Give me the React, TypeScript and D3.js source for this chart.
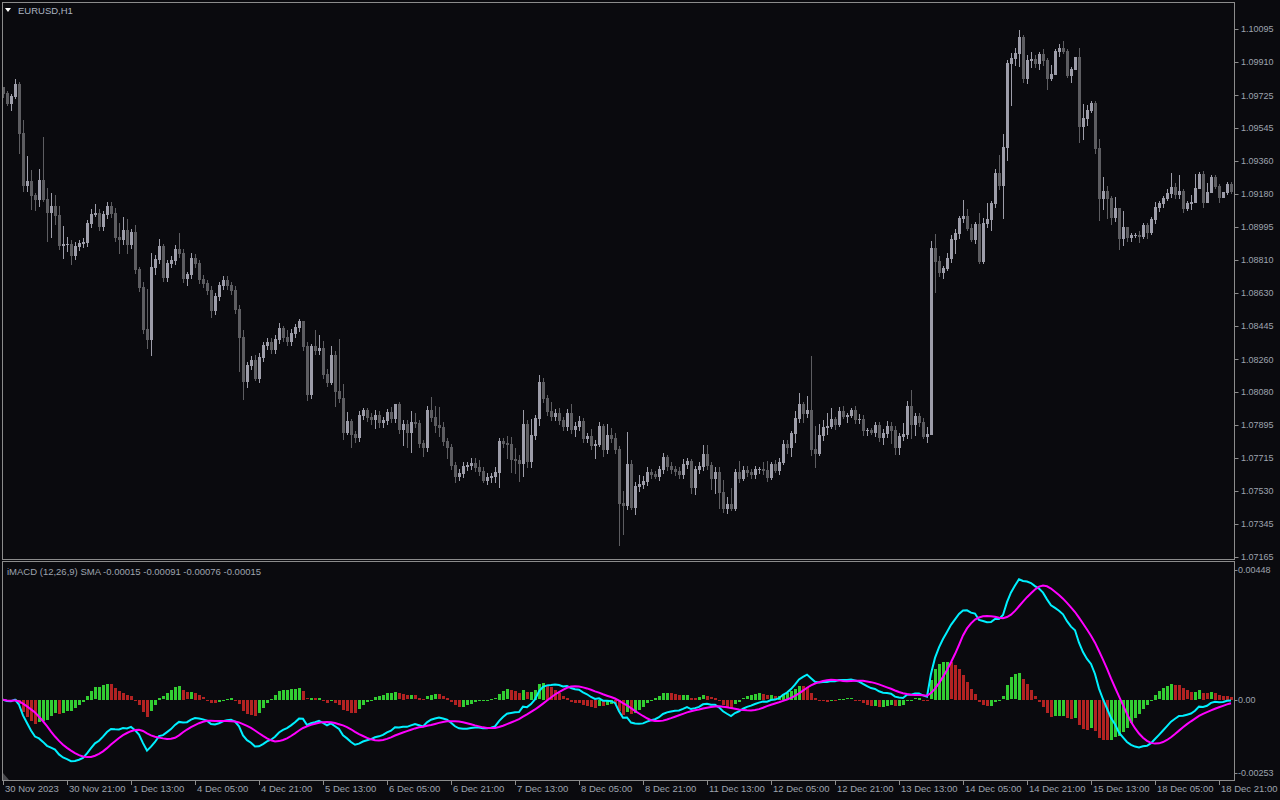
import { line, scaleLinear } from "d3";

// EURUSD H1, 30 Nov - 18 Dec 2023
const firstOpen = 1.09771;

const closes = [
  1.09738, 1.09682, 1.09721, 1.09788, 1.09516, 1.09227, 1.09249, 1.09172, 1.0915, 1.09255,
  1.0915, 1.09077, 1.09111, 1.09061, 1.08894, 1.089, 1.089, 1.08839, 1.08889, 1.08905,
  1.08911, 1.09016, 1.09066, 1.09072, 1.09, 1.09066, 1.09111, 1.09072, 1.08939, 1.08928,
  1.08978, 1.089, 1.08966, 1.08761, 1.08661, 1.08428, 1.08373, 1.08772, 1.08817, 1.08889,
  1.08717, 1.08794, 1.08811, 1.08872, 1.0885, 1.08711, 1.08733, 1.08822, 1.08794, 1.08706,
  1.08683, 1.08645, 1.08534, 1.08611, 1.08672, 1.087, 1.08672, 1.08645, 1.08539, 1.08384,
  1.08139, 1.08228, 1.08256, 1.08156, 1.08273, 1.08339, 1.08356, 1.08317, 1.08373, 1.08434,
  1.08384, 1.08361, 1.08406, 1.08439, 1.08472, 1.08334, 1.08067, 1.08334, 1.08312, 1.08323,
  1.08178, 1.08134, 1.08284, 1.08084, 1.08045, 1.07856, 1.07917, 1.07845, 1.07829, 1.07951,
  1.07979, 1.0794, 1.07929, 1.07951, 1.07912, 1.07923, 1.07967, 1.07934, 1.08012, 1.07873,
  1.07901, 1.07856, 1.07912, 1.07906, 1.07795, 1.07773, 1.07979, 1.0794, 1.07895, 1.07884,
  1.07806, 1.07773, 1.07673, 1.07612, 1.07629, 1.07668, 1.07673, 1.07684, 1.07662, 1.0764,
  1.0759, 1.07607, 1.07612, 1.07634, 1.07806, 1.07795, 1.0779, 1.07707, 1.07701, 1.07684,
  1.07901, 1.07695, 1.0784, 1.07934, 1.08134, 1.08045, 1.07973, 1.07945, 1.07962, 1.07923,
  1.0789, 1.07962, 1.07873, 1.0789, 1.07917, 1.07823, 1.07834, 1.07784, 1.0779, 1.0789,
  1.07762, 1.0784, 1.07823, 1.07762, 1.07462, 1.07451, 1.07679, 1.0744, 1.07557, 1.07568,
  1.07584, 1.07634, 1.07623, 1.07612, 1.07651, 1.07718, 1.07668, 1.07651, 1.0764, 1.07623,
  1.07679, 1.07695, 1.07551, 1.07651, 1.07668, 1.07734, 1.07673, 1.07601, 1.07634, 1.07523,
  1.07435, 1.07457, 1.07435, 1.07634, 1.07601, 1.07646, 1.07634, 1.07623, 1.07651, 1.07651,
  1.07646, 1.07607, 1.07679, 1.07646, 1.0769, 1.0779, 1.07773, 1.07851, 1.07934, 1.08012,
  1.07962, 1.07979, 1.07762, 1.0774, 1.0784, 1.07884, 1.0789, 1.07929, 1.07901, 1.07973,
  1.07945, 1.07951, 1.07979, 1.07929, 1.07929, 1.07868, 1.07868, 1.07856, 1.07895, 1.07829,
  1.07851, 1.0789, 1.07868, 1.07773, 1.07834, 1.07845, 1.08001, 1.07901, 1.07945, 1.07912,
  1.07834, 1.07845, 1.08878, 1.08805, 1.08744, 1.08767, 1.08822, 1.08928, 1.08961, 1.09044,
  1.09055, 1.08989, 1.08928, 1.09011, 1.08805, 1.09016, 1.09039, 1.09127, 1.09294, 1.09227,
  1.09438, 1.09904, 1.09932, 1.0996, 1.10049, 1.09821, 1.09921, 1.09927, 1.09904, 1.09954,
  1.09921, 1.09821, 1.09843, 1.09971, 1.09988, 1.09971, 1.09838, 1.09871, 1.09938, 1.09555,
  1.09599, 1.09644, 1.09682, 1.09433, 1.09155, 1.09194, 1.09155, 1.0905, 1.091, 1.08933,
  1.08994, 1.08939, 1.0895, 1.0895, 1.08944, 1.09005, 1.08966, 1.09039, 1.09105, 1.09127,
  1.09155, 1.09183, 1.09216, 1.09177, 1.09194, 1.091, 1.09127, 1.09133, 1.09211, 1.09288,
  1.09133, 1.09188, 1.09272, 1.09222, 1.09161, 1.09188, 1.09233, 1.09194,
];

// wick lengths beyond the body, in pips
const upperWicks = [
  0, 1, 1, 3, 1, 7, 14, 6, 1, 6,
  24, 6, 7, 6, 5, 10, 4, 2, 2, 2,
  2, 2, 3, 5, 2, 2, 2, 2, 3, 8,
  7, 6, 2, 4, 1, 3, 22, 8, 2, 4,
  1, 2, 2, 2, 9, 2, 1, 3, 2, 2,
  2, 2, 2, 2, 2, 2, 2, 2, 2, 2,
  4, 2, 2, 3, 2, 2, 2, 2, 2, 3,
  1, 4, 2, 2, 1, 0, 2, 1, 9, 7,
  4, 3, 5, 2, 29, 8, 5, 1, 2, 2,
  1, 1, 2, 3, 2, 2, 2, 3, 0, 1,
  2, 2, 6, 5, 2, 2, 2, 7, 6, 10,
  3, 2, 2, 2, 2, 2, 2, 3, 3, 4,
  2, 2, 2, 3, 2, 2, 4, 4, 6, 3,
  8, 2, 9, 2, 4, 2, 2, 5, 2, 3,
  2, 2, 5, 2, 3, 2, 2, 4, 2, 2,
  1, 6, 4, 3, 2, 7, 18, 2, 2, 5,
  3, 3, 2, 2, 2, 2, 1, 2, 2, 2,
  3, 2, 1, 2, 2, 5, 5, 2, 3, 3,
  7, 4, 9, 2, 6, 2, 2, 2, 2, 1,
  4, 5, 1, 2, 2, 2, 2, 1, 4, 6,
  1, 8, 30, 13, 6, 4, 7, 6, 1, 2,
  3, 1, 1, 2, 3, 2, 1, 1, 2, 2,
  2, 3, 2, 2, 2, 6, 3, 9, 2, 2,
  2, 4, 4, 8, 3, 1, 3, 2, 2, 1,
  9, 4, 2, 1, 6, 3, 9, 1, 2, 10,
  7, 2, 3, 3, 4, 1, 3, 4, 2, 1,
  3, 1, 5, 1, 2, 4, 1, 1, 0, 5,
  8, 3, 1, 1, 5, 8, 3, 1, 6, 0,
  9, 0, 1, 1, 2, 1, 1, 1, 3, 1,
  1, 2, 8, 2, 9, 1, 1, 4, 8, 1,
  2, 5, 1, 1, 1, 0, 1, 1,
];

const lowerWicks = [
  2, 1, 4, 1, 11, 3, 3, 8, 6, 4,
  1, 16, 14, 5, 2, 7, 4, 5, 2, 2,
  2, 2, 2, 1, 2, 2, 2, 2, 2, 8,
  3, 5, 2, 2, 2, 2, 5, 9, 4, 2,
  2, 2, 2, 2, 2, 2, 4, 2, 2, 2,
  2, 2, 4, 2, 2, 2, 2, 2, 2, 19,
  10, 3, 2, 1, 2, 2, 2, 2, 2, 2,
  2, 2, 2, 2, 2, 2, 3, 2, 2, 2,
  2, 2, 1, 8, 2, 4, 1, 7, 3, 2,
  2, 2, 3, 5, 3, 3, 2, 2, 2, 2,
  9, 8, 11, 2, 2, 5, 2, 2, 4, 5,
  2, 6, 2, 3, 2, 2, 2, 2, 2, 2,
  1, 2, 3, 3, 8, 2, 8, 7, 7, 10,
  7, 3, 3, 2, 4, 2, 2, 2, 2, 2,
  2, 2, 2, 4, 2, 2, 2, 2, 7, 1,
  4, 2, 2, 2, 23, 16, 2, 1, 4, 3,
  2, 2, 2, 1, 2, 2, 2, 2, 2, 2,
  2, 2, 3, 4, 2, 2, 2, 6, 8, 9,
  2, 3, 1, 1, 2, 1, 2, 2, 2, 2,
  2, 2, 1, 1, 2, 1, 3, 5, 5, 2,
  5, 2, 3, 8, 1, 3, 4, 1, 3, 1,
  1, 3, 1, 2, 2, 3, 3, 1, 2, 2,
  4, 2, 7, 4, 4, 2, 2, 8, 6, 2,
  1, 3, 0, 17, 2, 3, 1, 2, 8, 3,
  2, 1, 1, 2, 1, 1, 2, 6, 2, 2,
  18, 7, 23, 4, 7, 2, 3, 4, 2, 3,
  3, 6, 1, 0, 3, 1, 1, 4, 0, 9,
  7, 4, 1, 3, 12, 6, 11, 4, 2, 6,
  4, 2, 2, 1, 3, 1, 3, 1, 2, 2,
  2, 1, 2, 2, 2, 2, 1, 3, 0, 0,
  3, 0, 0, 1, 3, 0, 1, 1,
];

const priceTicks = [
  "1.10095", "1.09910", "1.09725", "1.09545", "1.09360", "1.09180", "1.08995", "1.08810", "1.08630",
  "1.08445", "1.08260", "1.08080", "1.07895", "1.07715", "1.07530", "1.07345", "1.07165",
];
const macdTicks = ["0.00448", "0.00", "-0.00253"];

const timeLabels = [
  "30 Nov 2023", "30 Nov 21:00", "1 Dec 13:00", "4 Dec 05:00", "4 Dec 21:00", "5 Dec 13:00",
  "6 Dec 05:00", "6 Dec 21:00", "7 Dec 13:00", "8 Dec 05:00", "8 Dec 21:00", "11 Dec 13:00",
  "12 Dec 05:00", "12 Dec 21:00", "13 Dec 13:00", "14 Dec 05:00", "14 Dec 21:00", "15 Dec 13:00",
  "18 Dec 05:00", "18 Dec 21:00",
];
const timeLabelBars = [0, 16, 32, 48, 64, 80, 96, 112, 128, 144, 160, 176, 192, 208, 224, 240, 256, 272, 288, 304];

const symbolTitle = "EURUSD,H1";
const macdTitle = "iMACD (12,26,9) SMA -0.00015 -0.00091 -0.00076 -0.00015";

const PIP = 0.0001;
const BG = "#0a0a0e";
const FRAME = "#8c8c8c";
const TEXT = "#9ea4ae";
const BULL = "#9d9da9";
const BEAR = "#5d5d61";
const FONT = "'Liberation Sans', Arial, sans-serif";

const main = { left: 2.5, right: 1234.5, top: 2.5, bottom: 559.5 };
const sub = { top: 561.5, bottom: 780.5 };

function ema(values: number[], period: number) {
  const k = 2 / (period + 1);
  const out: number[] = [];
  values.forEach((v, i) => out.push(i === 0 ? v : v * k + out[i - 1] * (1 - k)));
  return out;
}

export default function App() {
  const n = closes.length;
  const opens = closes.map((_, i) => (i === 0 ? firstOpen : closes[i - 1]));
  const highs = closes.map((c, i) => Math.max(opens[i], c) + upperWicks[i] * PIP);
  const lows = closes.map((c, i) => Math.min(opens[i], c) - lowerWicks[i] * PIP);

  // MACD(12,26,9) with SMA signal, as MetaTrader's iMACD
  const fast = ema(closes, 12);
  const slow = ema(closes, 26);
  const macd = fast.map((f, i) => f - slow[i]);
  const signal = macd.map((_, i) => {
    const w = macd.slice(Math.max(0, i - 8), i + 1);
    return w.reduce((a, b) => a + b, 0) / w.length;
  });
  const hist = macd.map((m, i) => m - signal[i]);

  const x = scaleLinear().domain([0, n - 1]).range([3, 3 + 4 * (n - 1)]);
  const y = scaleLinear().domain([1.07165, 1.10095]).range([556.7, 28.7]);
  const yM = scaleLinear().domain([-0.00253, 0.00448]).range([773, 570]);

  const macdLine = line<number>().x((_, i) => x(i)).y((d) => yM(d));

  return (
    <svg
      width={1280}
      height={800}
      style={{ position: "absolute", left: 0, top: 0, background: BG }}
      fontFamily={FONT}
    >
      <rect width={1280} height={800} fill={BG} />
      <defs>
        <clipPath id="mainClip">
          <rect x={main.left} y={main.top} width={main.right - main.left} height={main.bottom - main.top} />
        </clipPath>
        <clipPath id="subClip">
          <rect x={main.left} y={sub.top} width={main.right - main.left} height={sub.bottom - sub.top} />
        </clipPath>
      </defs>

      {/* candles */}
      <g clipPath="url(#mainClip)" shapeRendering="crispEdges">
        {closes.map((c, i) => {
          const o = opens[i];
          const cx = Math.round(x(i));
          const col = c >= o ? BULL : BEAR;
          const top = Math.round(y(Math.max(o, c)));
          const bot = Math.round(y(Math.min(o, c)));
          const hi = Math.round(y(highs[i]));
          const lo = Math.round(y(lows[i]));
          return (
            <g key={`c-${i}`}>
              <rect x={cx} y={hi} width={1} height={Math.max(1, lo - hi + 1)} fill={col} />
              <rect x={cx - 1} y={top} width={3} height={Math.max(1, bot - top + 1)} fill={col} />
            </g>
          );
        })}
      </g>

      {/* MACD histogram and lines */}
      <g clipPath="url(#subClip)">
        <g shapeRendering="crispEdges">
          {hist.map((h, i) => {
            const y0 = yM(0);
            const y1 = yM(h);
            const up = i === 0 ? true : h >= hist[i - 1];
            return (
              <rect
                key={`h-${i}`}
                x={Math.round(x(i)) - 1}
                y={Math.round(Math.min(y0, y1))}
                width={3}
                height={Math.max(1, Math.round(Math.abs(y1 - y0)))}
                fill={up ? "#32cd32" : "#b22222"}
              />
            );
          })}
        </g>
        <path d={macdLine(macd) ?? ""} fill="none" stroke="#00f0ff" strokeWidth={2} />
        <path d={macdLine(signal) ?? ""} fill="none" stroke="#ff00ff" strokeWidth={2} />
      </g>

      {/* frames */}
      <g fill="none" stroke={FRAME} strokeWidth={1} shapeRendering="crispEdges">
        <rect x={main.left} y={main.top} width={main.right - main.left} height={main.bottom - main.top} />
        <rect x={main.left} y={sub.top} width={main.right - main.left} height={sub.bottom - sub.top} />
      </g>

      {/* titles */}
      <polygon points="5,8 11,8 8,12" fill="#ffffff" />
      <text x={18} y={14} fontSize={9.5} fill="#aab4c2">{symbolTitle}</text>
      <text x={7} y={575} fontSize={9.5} fill={TEXT}>{macdTitle}</text>
      <polygon points="3,773 3,780 9,780" fill="#4a4a4e" />

      {/* price axis */}
      <g fontSize={9} fill={TEXT}>
        {priceTicks.map((t) => (
          <g key={`p-${t}`}>
            <line x1={1234.5} x2={1238.5} y1={Math.round(y(+t)) + 0.5} y2={Math.round(y(+t)) + 0.5} stroke={FRAME} />
            <text x={1241} y={y(+t)} dy="0.35em">{t}</text>
          </g>
        ))}
        {macdTicks.map((t) => (
          <g key={`m-${t}`}>
            <line x1={1234.5} x2={1237.5} y1={Math.round(yM(+t)) + 0.5} y2={Math.round(yM(+t)) + 0.5} stroke={FRAME} />
            <text x={1238} y={yM(+t)} dy="0.35em">{t}</text>
          </g>
        ))}
      </g>

      {/* time axis */}
      <g fontSize={9.5} fill={TEXT}>
        {timeLabels.map((t, k) => {
          const tx = Math.round(x(timeLabelBars[k]));
          return (
            <g key={`t-${t}`}>
              <line x1={tx + 0.5} x2={tx + 0.5} y1={781} y2={785} stroke={FRAME} />
              <text x={tx + 2} y={792}>{t}</text>
            </g>
          );
        })}
      </g>
    </svg>
  );
}
